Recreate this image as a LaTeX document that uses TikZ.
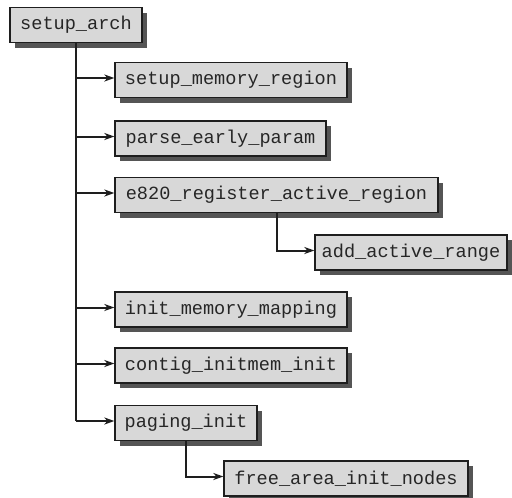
\documentclass[tikz,border=0pt]{standalone}
\usepackage{fontspec}
\setmonofont{Liberation Mono}
\usetikzlibrary{shadows,arrows.meta}
\definecolor{boxfill}{HTML}{D8D8D8}
\definecolor{shadowc}{HTML}{555555}
\definecolor{linec}{HTML}{1E1E1E}
\begin{document}
\begin{tikzpicture}[x=1pt,y=-1pt,
  fbox/.style={draw=linec, line width=1.3pt, fill=boxfill, minimum height=35pt,
    inner xsep=0pt, inner ysep=0pt, text=black!85,
    font=\ttfamily\fontsize{18.6}{20}\selectfont,
    drop shadow={shadow xshift=5pt, shadow yshift=-5pt, fill=shadowc, opacity=1}},
  conn/.style={draw=linec, line width=2pt},
  arr/.style={conn, -{Stealth[length=10pt,width=7pt,inset=3pt]}}]
\useasboundingbox (0,0) rectangle (512,498);
\node[fbox, minimum width=132pt] (sa) at (76,25) {setup\_arch};
\node[fbox, minimum width=232pt] (smr) at (231,80) {setup\_memory\_region};
\node[fbox, minimum width=211pt] (pep) at (220.5,138.5) {parse\_early\_param};
\node[fbox, minimum width=323pt] (e820) at (276.5,195) {e820\_register\_active\_region};
\node[fbox, minimum width=192pt] (aar) at (411,252.5) {add\_active\_range};
\node[fbox, minimum width=232pt] (imm) at (231,309.5) {init\_memory\_mapping};
\node[fbox, minimum width=232pt] (cii) at (231,365.5) {contig\_initmem\_init};
\node[fbox, minimum width=142pt] (pi) at (186,423) {paging\_init};
\node[fbox, minimum width=244pt] (fain) at (346,478.5) {free\_area\_init\_nodes};
\coordinate (insmr) at ([yshift=2pt]smr.west);
\coordinate (inpep) at ([yshift=2pt]pep.west);
\coordinate (ine820) at ([yshift=2pt]e820.west);
\coordinate (inaar) at ([yshift=2pt]aar.west);
\coordinate (inimm) at ([yshift=2pt]imm.west);
\coordinate (incii) at ([yshift=2pt]cii.west);
\coordinate (inpi) at ([yshift=2pt]pi.west);
\coordinate (infain) at ([yshift=2pt]fain.west);
\draw[conn] (sa.south) -- (sa.south |- inpi);
\foreach \n in {smr,pep,e820,imm,cii,pi}
  \draw[arr] (sa.south |- in\n) -- (in\n);
\draw[arr] (e820.south) |- (inaar);
\draw[arr] (pi.south) |- (infain);
\end{tikzpicture}
\end{document}
